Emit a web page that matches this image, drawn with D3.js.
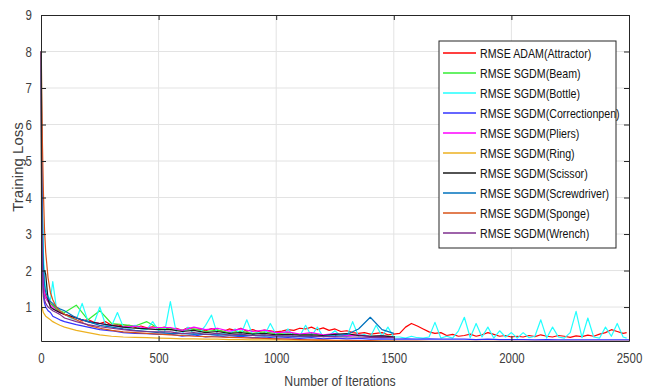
<!DOCTYPE html>
<html>
<head>
<meta charset="utf-8">
<script src="https://cdn.jsdelivr.net/npm/d3@7"></script>
<style>
  body { margin: 0; background: #fff; }
  text { font-family: "Liberation Sans", Arial, sans-serif; }
</style>
</head>
<body>
<div id="chart"></div>
<script>
// iteration grids
const iterFine = [1, 3, 6, 10, 15, 20, 30, 40, 50, 65, 80, 100].concat(d3.range(125, 2500, 25), [2490]);
const iterCoarse = [1, 3, 6, 10, 15, 20, 30, 40, 50, 65, 80, 100].concat(d3.range(150, 2501, 50));

const xTicks = [0, 500, 1000, 1500, 2000, 2500];
const yTicks = [1, 2, 3, 4, 5, 6, 7, 8, 9];

const seriesNames = ['RMSE ADAM(Attractor)', 'RMSE SGDM(Beam)', 'RMSE SGDM(Bottle)', 'RMSE SGDM(Correctionpen)',
  'RMSE SGDM(Pliers)', 'RMSE SGDM(Ring)', 'RMSE SGDM(Scissor)', 'RMSE SGDM(Screwdriver)',
  'RMSE SGDM(Sponge)', 'RMSE SGDM(Wrench)'];
const seriesColors = ['#ff0000', '#33ee33', '#22ffff', '#3333ff', '#ff00ff', '#edb120', '#1a1a1a', '#0072bd', '#d95319', '#7e2f8e'];

const attractor = [8, 5, 2.5, 1.6, 1.4, 1.3, 1.2, 1.1, 1.05, 0.95, 0.85, 0.8,
  0.75, 0.72, 0.62, 0.66, 0.58, 0.55, 0.6, 0.5, 0.52, 0.47, 0.5, 0.44, 0.48, 0.43, 0.46, 0.42,
  0.45, 0.38, 0.42, 0.36, 0.44, 0.38, 0.4, 0.35, 0.41, 0.37, 0.33, 0.4, 0.36, 0.42, 0.34, 0.38, 0.33, 0.37, 0.35, 0.32,
  0.34, 0.38, 0.36, 0.42, 0.4, 0.45, 0.38, 0.43, 0.36, 0.4, 0.33, 0.35, 0.3, 0.28, 0.3, 0.26, 0.28, 0.3, 0.24, 0.26,
  0.28, 0.45, 0.55, 0.48, 0.4, 0.32, 0.28, 0.3, 0.22, 0.25, 0.2, 0.22, 0.26, 0.2, 0.24, 0.3, 0.25, 0.2, 0.22, 0.18,
  0.2, 0.18, 0.22, 0.19, 0.24, 0.2, 0.18, 0.22, 0.2, 0.17, 0.21, 0.19, 0.23, 0.2, 0.26, 0.3, 0.38, 0.33, 0.28, 0.3];
const bottle = [8, 6, 4, 2.5, 1.8, 1.5, 1.3, 1.2, 1.7, 1.0, 0.9, 0.8,
  0.7, 0.65, 1.1, 0.6, 0.55, 1.0, 0.5, 0.48, 0.85, 0.45, 0.42, 0.5, 0.4, 0.38, 0.6, 0.35,
  0.3, 1.15, 0.3, 0.28, 0.45, 0.26, 0.3, 0.5, 0.78, 0.25, 0.28, 0.24, 0.4, 0.25, 0.65, 0.23, 0.3, 0.22, 0.55, 0.25,
  0.2, 0.4, 0.18, 0.2, 0.5, 0.2, 0.45, 0.18, 0.22, 0.35, 0.2, 0.18, 0.6, 0.2, 0.25, 0.18, 0.5, 0.2, 0.45, 0.18,
  0.18, 0.15, 0.2, 0.16, 0.15, 0.18, 0.58, 0.15, 0.2, 0.15, 0.35, 0.72, 0.16, 0.55, 0.18, 0.45, 0.15, 0.35, 0.18, 0.3,
  0.15, 0.3, 0.16, 0.2, 0.65, 0.15, 0.45, 0.18, 0.15, 0.3, 0.88, 0.16, 0.7, 0.18, 0.15, 0.45, 0.2, 0.55, 0.18, 0.15];
const beam = [8, 4, 2.2, 1.5, 1.3, 1.25, 1.15, 1.1, 1.05, 0.95, 0.9, 0.85,
  1.05, 0.65, 0.9, 0.55, 0.52, 0.48, 0.6, 0.42,
  0.42, 0.36, 0.4, 0.33, 0.37, 0.3, 0.34, 0.28, 0.32, 0.27,
  0.3, 0.24, 0.27, 0.22, 0.26, 0.21, 0.24, 0.2, 0.22, 0.19];
const correctionpen = [8, 3, 1.8, 1.3, 1.1, 1.0, 0.9, 0.85, 0.75, 0.7, 0.65, 0.6,
  0.52, 0.45, 0.38, 0.35, 0.3, 0.28, 0.27, 0.25,
  0.26, 0.2, 0.24, 0.18, 0.21, 0.17, 0.2, 0.16, 0.18, 0.15,
  0.16, 0.14, 0.16, 0.13, 0.15, 0.13, 0.14, 0.12, 0.13, 0.12,
  0.13, 0.12, 0.13, 0.12, 0.12, 0.12, 0.11, 0.12, 0.11, 0.11, 0.11, 0.1, 0.11, 0.1, 0.1, 0.1, 0.1, 0.1, 0.1, 0.1];
const pliers = [8, 4.5, 2.4, 1.6, 1.35, 1.25, 1.15, 1.05, 1.0, 0.9, 0.85, 0.8,
  0.7, 0.6, 0.55, 0.5, 0.45, 0.48, 0.42, 0.44,
  0.44, 0.36, 0.45, 0.38, 0.42, 0.34, 0.4, 0.33, 0.37, 0.3,
  0.32, 0.26, 0.3, 0.24, 0.27, 0.21, 0.24, 0.19, 0.21, 0.18];
const ring = [8, 1.0, 0.95, 0.85, 0.8, 0.75, 0.7, 0.65, 0.6, 0.55, 0.5, 0.45,
  0.36, 0.3, 0.24, 0.2, 0.18, 0.17, 0.16, 0.15,
  0.14, 0.13, 0.13, 0.12, 0.12, 0.11, 0.11, 0.1, 0.1, 0.1,
  0.09, 0.09, 0.09, 0.08, 0.08, 0.08, 0.08, 0.07, 0.07, 0.07];
const scissor = [8, 2.0, 2.0, 2.0, 2.0, 1.9, 1.2, 1.0, 0.95, 0.9, 0.85, 0.8,
  0.7, 0.6, 0.55, 0.5, 0.45, 0.42, 0.4, 0.38,
  0.38, 0.33, 0.36, 0.3, 0.33, 0.28, 0.3, 0.26, 0.28, 0.24,
  0.25, 0.23, 0.24, 0.22, 0.25, 0.27, 0.22, 0.2, 0.21, 0.18];
const screwdriver = [8, 5, 3.5, 2.2, 1.6, 1.4, 1.25, 1.15, 1.1, 1.0, 0.95, 0.9,
  0.7, 0.6, 0.5, 0.45, 0.4, 0.36, 0.33, 0.3,
  0.28, 0.27, 0.26, 0.25, 0.24, 0.23, 0.22, 0.22, 0.21, 0.2,
  0.2, 0.19, 0.19, 0.2, 0.22, 0.25, 0.4, 0.72, 0.38, 0.28];
const sponge = [8, 7, 5.5, 4.2, 3.1, 2.5, 1.8, 1.4, 1.2, 1.0, 0.9, 0.8,
  0.65, 0.5, 0.42, 0.36, 0.32, 0.3, 0.28, 0.26,
  0.24, 0.22, 0.2, 0.19, 0.18, 0.17, 0.16, 0.15, 0.14, 0.13,
  0.12, 0.11, 0.1, 0.1, 0.09, 0.09, 0.08, 0.08, 0.07, 0.07,
  0.07, 0.07, 0.06, 0.06, 0.06, 0.06, 0.06, 0.06, 0.06, 0.06, 0.06, 0.06, 0.06, 0.06, 0.06, 0.06, 0.06, 0.06, 0.06, 0.06];
const wrench = [8, 3.5, 2.0, 1.4, 1.2, 1.1, 1.0, 0.95, 0.9, 0.85, 0.8, 0.7,
  0.6, 0.52, 0.46, 0.42, 0.38, 0.35, 0.33, 0.32,
  0.32, 0.27, 0.3, 0.25, 0.28, 0.23, 0.26, 0.22, 0.24, 0.21,
  0.21, 0.2, 0.2, 0.19, 0.19, 0.18, 0.18, 0.17, 0.17, 0.16];

const seriesValues = [attractor, beam, bottle, correctionpen, pliers, ring, scissor, screwdriver, sponge, wrench];
const seriesGrid = [iterFine, iterCoarse, iterFine, iterCoarse, iterCoarse, iterCoarse, iterCoarse, iterCoarse, iterCoarse, iterCoarse];

const W = 656, H = 390;
const plot = {left: 41, right: 629, top: 15, bottom: 341};
const squeeze = 0.82; // the original text is narrow

const svg = d3.select('#chart').append('svg')
  .attr('width', W)
  .attr('height', H)
  .style('background', '#fff');

const x = d3.scaleLinear().domain([0, 2500]).range([plot.left, plot.right]);
const y = d3.scaleLinear().domain([0.07, 9]).range([plot.bottom, plot.top]);

// grid
svg.append('g').selectAll('line').data(xTicks.slice(1, -1)).enter().append('line')
  .attr('x1', d => x(d)).attr('x2', d => x(d))
  .attr('y1', plot.top).attr('y2', plot.bottom)
  .attr('stroke', '#e3e3e3').attr('stroke-width', 1);
svg.append('g').selectAll('line').data(yTicks.slice(0, -1)).enter().append('line')
  .attr('x1', plot.left).attr('x2', plot.right)
  .attr('y1', d => y(d)).attr('y2', d => y(d))
  .attr('stroke', '#e3e3e3').attr('stroke-width', 1);

// lines
const line = d3.line().x(d => x(d[0])).y(d => y(d[1]));
svg.append('g').selectAll('path').data(seriesValues).enter().append('path')
  .attr('d', (vals, i) => line(vals.map((v, j) => [seriesGrid[i][j], v])))
  .attr('fill', 'none')
  .attr('stroke', (d, i) => seriesColors[i])
  .attr('stroke-width', 1.2)
  .attr('stroke-linejoin', 'round');

// axes (box with inward ticks)
const axisColor = '#262626';
const fmt = d3.format('d');
svg.append('g').attr('transform', `translate(0,${plot.bottom})`)
  .call(d3.axisBottom(x).tickValues(xTicks).tickFormat(fmt).tickSizeInner(-5).tickSizeOuter(0).tickPadding(12))
  .call(g => g.select('.domain').attr('stroke', axisColor));
svg.append('g').attr('transform', `translate(0,${plot.top})`)
  .call(d3.axisTop(x).tickValues(xTicks).tickFormat('').tickSizeInner(-5).tickSizeOuter(0))
  .call(g => g.select('.domain').attr('stroke', axisColor));
const yAxis = svg.append('g').attr('transform', `translate(${plot.left},0)`)
  .call(d3.axisLeft(y).tickValues(yTicks).tickFormat(fmt).tickSizeInner(-5).tickSizeOuter(0).tickPadding(9))
  .call(g => g.select('.domain').attr('stroke', axisColor));
svg.append('g').attr('transform', `translate(${plot.right},0)`)
  .call(d3.axisRight(y).tickValues(yTicks).tickFormat('').tickSizeInner(-5).tickSizeOuter(0))
  .call(g => g.select('.domain').attr('stroke', axisColor));

svg.selectAll('.tick line').attr('stroke', axisColor);
svg.selectAll('.tick text').attr('fill', '#404040').style('font-size', '14px')
  .attr('transform', `scale(${squeeze},1)`);
yAxis.selectAll('.tick text').attr('x', -9 / squeeze);

// axis labels
svg.append('text')
  .attr('transform', `translate(340,386) scale(${squeeze},1)`)
  .attr('text-anchor', 'middle')
  .attr('fill', '#404040')
  .style('font-size', '15px')
  .text('Number of Iterations');
svg.append('text')
  .attr('transform', 'translate(23,167) rotate(-90)')
  .attr('text-anchor', 'middle')
  .attr('fill', '#404040')
  .style('font-size', '15px')
  .text('Training Loss');

// legend
const lg = svg.append('g').attr('transform', 'translate(439,41)');
lg.append('rect')
  .attr('width', 177).attr('height', 207)
  .attr('fill', '#fff').attr('stroke', axisColor).attr('stroke-width', 1);
const rows = lg.selectAll('g.row').data(seriesNames).enter().append('g')
  .attr('class', 'row')
  .attr('transform', (d, i) => `translate(0,${12 + i * 20})`);
rows.append('line')
  .attr('x1', 4).attr('x2', 37)
  .attr('stroke', (d, i) => seriesColors[i])
  .attr('stroke-width', 1.6);
rows.append('text')
  .attr('transform', `translate(41,4.5) scale(${squeeze},1)`)
  .attr('fill', '#111')
  .style('font-size', '13px')
  .text(d => d);
</script>
</body>
</html>
